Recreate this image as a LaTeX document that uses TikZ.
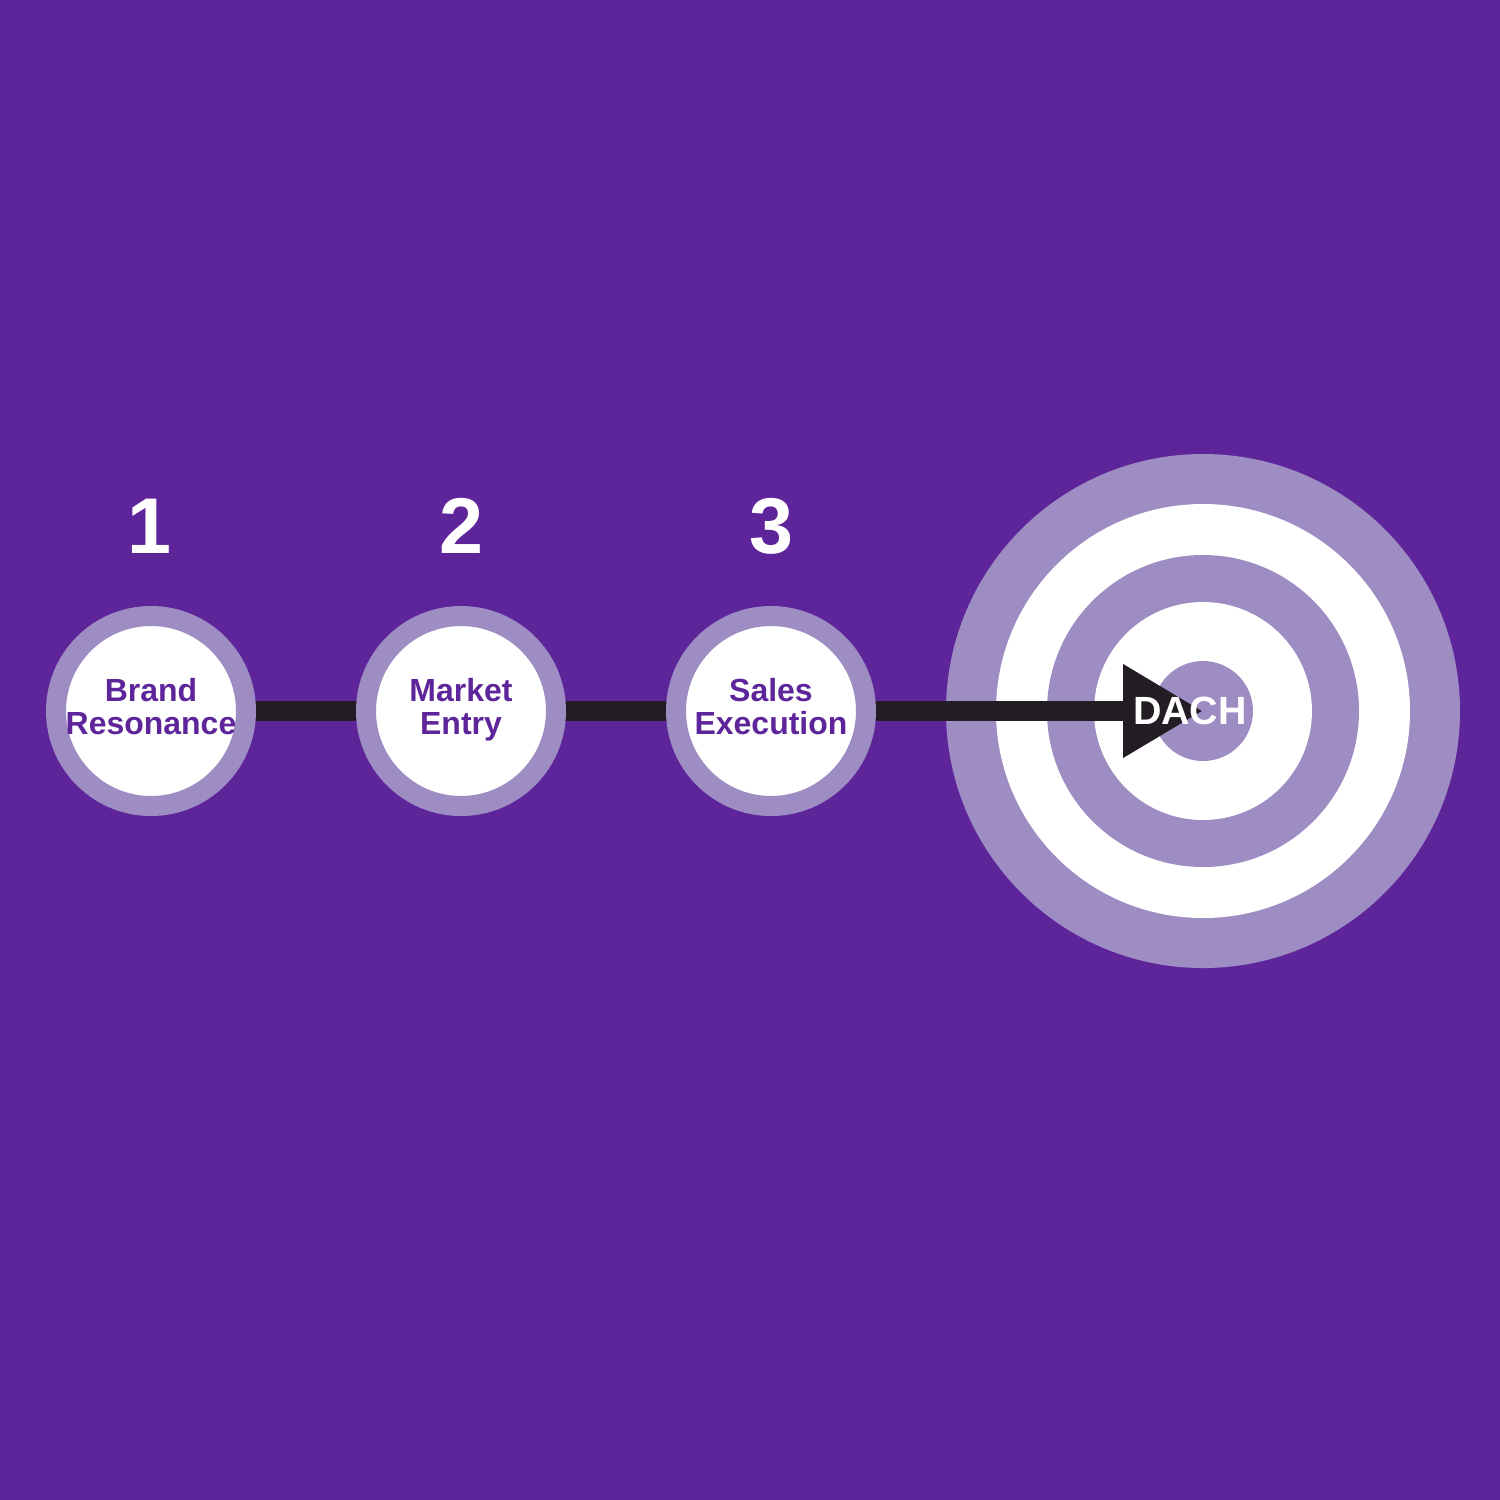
\documentclass[tikz,border=0pt]{standalone}
\usepackage{fontspec}
\setmainfont{Liberation Sans}
\usetikzlibrary{arrows.meta}
\definecolor{bgpurple}{HTML}{5E259B}
\definecolor{ringpurple}{HTML}{9E8DC3}
\definecolor{barblack}{HTML}{231C24}

\begin{document}
\begin{tikzpicture}[
	stage/.style={draw=ringpurple,line width=0.2cm,circle,fill=white,inner sep=0,outer sep=0,minimum size=1.9cm},
	stagetext/.style={text=bgpurple,font=\fontsize{9.1}{9.4}\selectfont\bfseries,align=center,inner sep=0},
	stagenum/.style={text=white,font=\fontsize{22.5}{24}\selectfont\bfseries,anchor=base,inner sep=0}
]
	\fill[bgpurple] (0,0) rectangle (15,-15);
	\useasboundingbox (0,0) rectangle (15,-15);
	% target
	\fill[ringpurple] (12.03,-7.11) circle (2.57);
	\fill[white] (12.03,-7.11) circle (2.07);
	\fill[ringpurple] (12.03,-7.11) circle (1.56);
	\fill[white] (12.03,-7.11) circle (1.09);
	\node[circle,fill=ringpurple,inner sep=0,outer sep=0,minimum size=1cm] (goal) at (12.03,-7.11) {};
	\coordinate (p1) at (1.51,-7.11);
	\coordinate (p2) at (4.61,-7.11);
	\coordinate (p3) at (7.71,-7.11);
	\draw[barblack,line width=0.2cm,-{Triangle[length=0.8cm,width=0.88cm]}] (p1) -- (goal.center);
	\node[stage] (brand) at (p1) {};
	\node[stage] (market) at (p2) {};
	\node[stage] (sales) at (p3) {};
	\node[stagetext] (brandtext) at (1.51,-7.07) {Brand\\Resonance};
	\node[stagetext] (markettext) at (4.61,-7.10) {Market\\Entry};
	\node[stagetext] (salestext) at (7.71,-7.07) {Sales\\Execution};
	\node[stagenum] (n1) at (1.49,-5.53) {1};
	\node[stagenum] (n2) at (4.61,-5.53) {2};
	\node[stagenum] (n3) at (7.71,-5.53) {3};
	\node[text=white,font=\fontsize{11.2}{12}\selectfont\bfseries,inner sep=0] (dach) at (11.90,-7.11) {DACH};
\end{tikzpicture}
\end{document}
